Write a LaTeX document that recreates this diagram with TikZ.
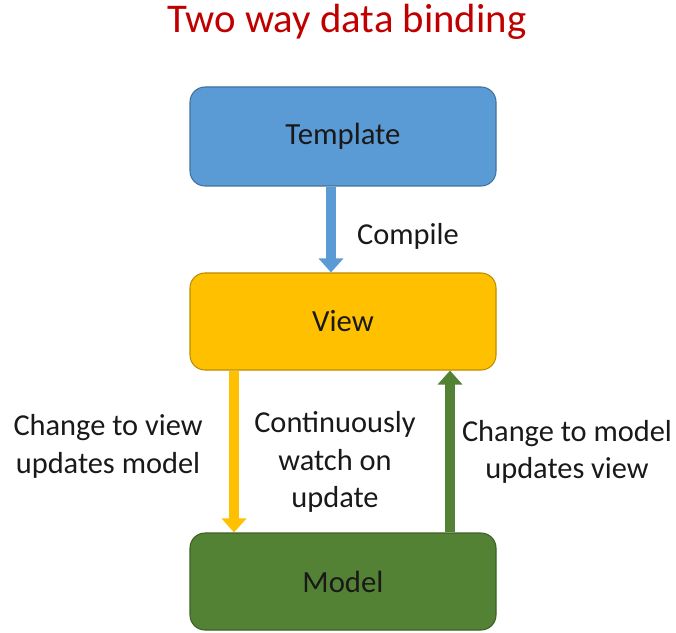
\documentclass[tikz,border=0pt]{standalone}
\usepackage{fontspec}
\setmainfont{Carlito}
\usetikzlibrary{arrows.meta}
\definecolor{TitleClr}{RGB}{192,0,0}
\definecolor{TemplateClr}{RGB}{91,155,213}
\definecolor{TemplateLineClr}{RGB}{65,113,156}
\definecolor{ViewClr}{RGB}{255,192,0}
\definecolor{ViewLineClr}{RGB}{188,140,0}
\definecolor{ModelClr}{RGB}{84,130,53}
\definecolor{ModelLineClr}{RGB}{60,95,38}
\definecolor{TextClr}{RGB}{25,25,25}

\begin{document}
\begin{tikzpicture}[
  box/.style={rounded corners=0.3cm,line width=0.6pt,minimum width=6.12cm,
    minimum height=1.94cm,text=TextClr,font=\fontsize{17.5}{21}\selectfont},
  lbl/.style={align=center,text=TextClr,font=\fontsize{17.3}{21.5}\selectfont},
  flow/.style={line width=0.2cm,-{Triangle[width=0.48cm,length=0.28cm]}}]

\useasboundingbox (0,0) rectangle (13.52,12.64);

\node[font=\fontsize{23.2}{27}\selectfont,text=TitleClr] (Title) at (6.94,12.2) {Two way data binding};

\node[box,fill=TemplateClr,draw=TemplateLineClr,minimum height=1.98cm] (Template) at (6.86,9.91) {Template};
\node[box,fill=ViewClr,draw=ViewLineClr] (View) at (6.86,6.21) {View};
\node[box,fill=ModelClr,draw=ModelLineClr] (Model) at (6.86,1.01) {Model};

\coordinate (c1) at (6.62,0);
\coordinate (c2) at (4.68,0);
\coordinate (c3) at (9.00,0);

\draw[flow,color=TemplateClr] (Template.south -| c1) -- (View.north -| c1);
\draw[flow,color=ViewClr] (View.south -| c2) -- (Model.north -| c2);
\draw[flow,color=ModelClr] (Model.north -| c3) -- (View.south -| c3);

\node[lbl] (Compile) at (8.16,7.92) {Compile};
\node[lbl] (ToModel) at (2.16,3.72) {Change to view\\updates model};
\node[lbl] (Watch) at (6.70,3.40) {Continuously\\watch on\\update};
\node[lbl] (ToView) at (11.34,3.60) {Change to model\\updates view};

\end{tikzpicture}
\end{document}
